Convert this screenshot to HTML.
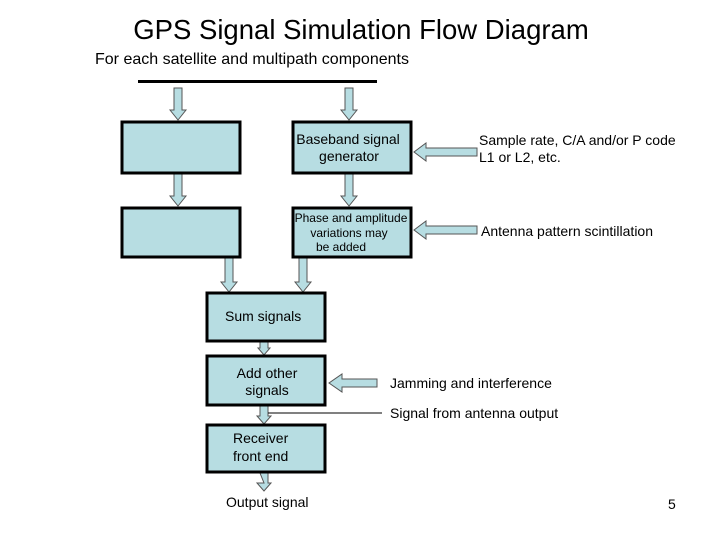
<!DOCTYPE html>
<html><head><style>
body{margin:0;width:720px;height:540px;background:#fff;overflow:hidden}
svg{display:block}
text{font-family:"Liberation Sans",sans-serif;fill:#000}
</style></head><body>
<svg width="720" height="540" viewBox="0 0 720 540">
<text x="361" y="39" font-size="27.5" text-anchor="middle">GPS Signal Simulation Flow Diagram</text>
<text x="95" y="64" font-size="16">For each satellite and multipath components</text>
<rect x="138" y="80" width="239" height="3" fill="#000"/>
<g fill="#b7dde2" stroke="#555" stroke-width="1">
<path d="M174,88 H182 V110 H186 L178,120 L170,110 H174 Z"/>
<path d="M345,88 H353 V110 H357 L349,120 L341,110 H345 Z"/>
<path d="M174,174 H182 V196 H186 L178,206 L170,196 H174 Z"/>
<path d="M345,174 H353 V196 H357 L349,206 L341,196 H345 Z"/>
<path d="M225,258 H233 V282 H237 L229,292 L221,282 H225 Z"/>
<path d="M299,258 H307 V282 H311 L303,292 L295,282 H299 Z"/>
<path d="M260,342 H268 V348 H270 L264,355 L258,348 H260 Z"/>
<path d="M260,406 H268 V416 H271 L264,424 L257,416 H260 Z"/>
<path d="M260,473 H268 V483 H271 L264,491 L257,483 H264 Z"/>
<path d="M477,148 V156 H426 V161 L414,152 L426,143 V148 Z"/>
<path d="M477,226 V234 H426 V239 L414,230 L426,221 V226 Z"/>
<path d="M377,379 V387 H342 V392 L329,383 L342,374 V379 Z"/>
</g>
<g fill="#b7dde2" stroke="#000" stroke-width="3">
<rect x="122" y="122" width="118" height="51"/>
<rect x="293" y="122" width="118" height="51"/>
<rect x="122" y="208" width="118" height="49"/>
<rect x="293" y="208" width="118" height="49"/>
<rect x="207" y="293" width="118" height="48"/>
<rect x="207" y="356" width="118" height="49"/>
<rect x="207" y="425" width="118" height="47"/>
</g>
<line x1="268" y1="413" x2="382" y2="413" stroke="#000" stroke-width="1"/>
<g font-size="14">
<text x="348" y="144" text-anchor="middle">Baseband signal</text>
<text x="349" y="161" text-anchor="middle">generator</text>
<text x="479" y="145">Sample rate, C/A and/or P code</text>
<text x="479" y="162">L1 or L2, etc.</text>
<text x="481" y="236">Antenna pattern scintillation</text>
<text x="225" y="321">Sum signals</text>
<text x="267" y="378" text-anchor="middle">Add other</text>
<text x="267" y="395" text-anchor="middle">signals</text>
<text x="390" y="388">Jamming and interference</text>
<text x="390" y="418">Signal from antenna output</text>
<text x="233" y="443">Receiver</text>
<text x="233" y="461">front end</text>
<text x="226" y="507">Output signal</text>
<text x="668" y="509">5</text>
</g>
<g font-size="12" text-anchor="middle">
<text x="351" y="222">Phase and amplitude</text>
<text x="349" y="237">variations may</text>
<text x="341" y="251">be added</text>
</g>
</svg>
</body></html>
